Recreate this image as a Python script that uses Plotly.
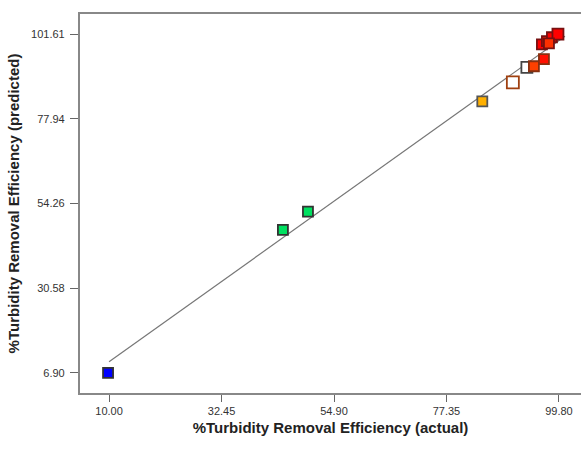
import plotly.graph_objects as go

actual = [9.8, 44.7, 49.7, 84.5, 90.6, 93.4, 94.8, 96.8, 96.4, 97.4, 98.4, 99.6, 97.8]
predicted = [6.9, 46.9, 52.0, 82.8, 88.1, 92.3, 92.6, 94.6, 98.7, 99.6, 100.7, 101.6, 99.0]
fills = ["#0000ff", "#00e060", "#00e060", "#ffb000", "#ffffff", "#ffffff", "#ff4000",
         "#ff1000", "#ff0000", "#ff2000", "#ff0000", "#ff0000", "#ff3000"]
outlines = ["#333333", "#333333", "#333333", "#555555", "#a04010", "#444444", "#883010",
            "#883010", "#771010", "#771010", "#771010", "#771010", "#771010"]
sizes = [10, 10, 10, 10, 12, 11, 10, 10, 10, 10, 10, 11, 10]
xticks = [10.00, 32.45, 54.90, 77.35, 99.80]
yticks = [6.90, 30.58, 54.26, 77.94, 101.61]
line_x = [10.0, 101.0]

fig = go.Figure()
fig.add_trace(go.Scatter(x=line_x, y=line_x, mode="lines",
                         line=dict(color="#777777", width=1.2), hoverinfo="skip"))
fig.add_trace(go.Scatter(x=actual, y=predicted, mode="markers",
                         marker=dict(symbol="square", size=sizes, color=fills, opacity=1,
                                     line=dict(color=outlines, width=1.8))))

fig.update_layout(
    width=581, height=450, showlegend=False,
    paper_bgcolor="white", plot_bgcolor="white",
    margin=dict(l=80, r=0, t=14, b=57),
    font=dict(family="Liberation Sans, Arial", color="#333333"),
)
fig.update_xaxes(range=[4.2, 104.2], tickvals=xticks, ticktext=[f"{v:.2f}" for v in xticks],
                 showgrid=False, zeroline=False, showline=True, mirror=True,
                 linecolor="#888888", linewidth=2, ticks="outside", ticklen=7,
                 tickcolor="#666666", tickfont=dict(size=11),
                 title=dict(text="<b>%Turbidity Removal Efficiency (actual)</b>",
                            font=dict(size=15, color="#222222"), standoff=6))
fig.update_yaxes(range=[1.3, 107.2], tickvals=yticks, ticktext=[f"{v:.2f} " for v in yticks],
                 showgrid=False, zeroline=False, showline=True, mirror=False,
                 linecolor="#888888", linewidth=2, ticks="outside", ticklen=8,
                 tickcolor="#666666", tickfont=dict(size=11),
                 title=dict(text="<b>%Turbidity Removal Efficiency (predicted)</b>",
                            font=dict(size=15, color="#222222"), standoff=8))

fig.write_html("out.html")
